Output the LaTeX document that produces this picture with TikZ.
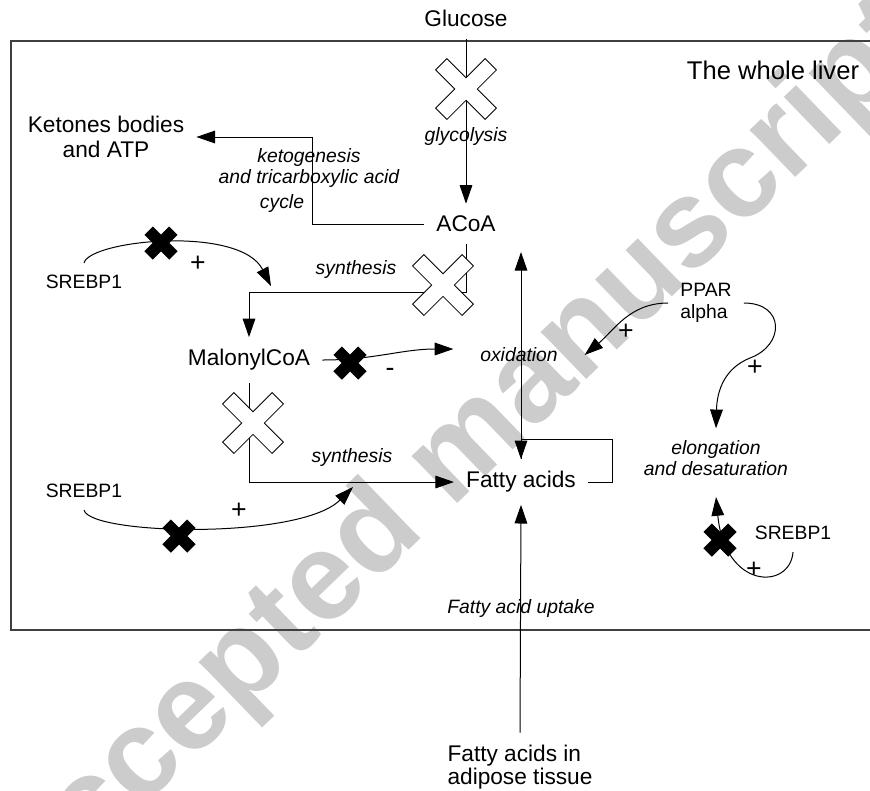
\documentclass[tikz,border=0pt]{standalone}
\usepackage{fontspec}
\setmainfont{Liberation Sans}
\usepackage{xcolor}
\usetikzlibrary{arrows.meta}

\definecolor{markgray}{RGB}{204,204,204}

\begin{document}
\begin{tikzpicture}[x=0.75pt,y=-0.75pt]
\tikzset{every node/.style={inner sep=9pt}}
\tikzset{species/.style={font=\fontsize{17}{19.2}\selectfont}}
\tikzset{factor/.style={font=\fontsize{14.5}{16.5}\selectfont,align=left}}
\tikzset{process/.style={font=\fontsize{14.5}{15.6}\selectfont\itshape,inner sep=2pt,align=center}}
\tikzset{sign/.style={font=\fontsize{20}{24}\selectfont,inner sep=0pt}}
\tikzset{arr/.style={-{Triangle[length=14pt,width=9.5pt]},line width=0.75pt}}
\tikzset{frame/.style={draw=black!75,line width=1pt}}
\tikzset{whitecross/.pic={\draw[fill=white,line width=0.6pt,rotate=45] (8,8) -- (35,8) -- (35,-8) -- (8,-8) -- (8,-35) -- (-8,-35) -- (-8,-8) -- (-35,-8) -- (-35,8) -- (-8,8) -- (-8,35) -- (8,35) -- cycle;}}
\tikzset{blackcross/.pic={\fill[rotate=45] (6,6) -- (17.5,6) -- (17.5,-6) -- (6,-6) -- (6,-17.5) -- (-6,-17.5) -- (-6,-6) -- (-17.5,-6) -- (-17.5,6) -- (-6,6) -- (-6,17.5) -- (6,17.5) -- cycle;}}

\useasboundingbox (0,0) rectangle (870,790);

\node[rotate=44,text=markgray,font=\fontsize{93}{100}\selectfont\bfseries,inner sep=0pt] (mark) at (457,460) {Accepted manuscript};

\draw[frame] (870,41) -- (11,41) -- (11,630) -- (870,630);

\node[species] (glucose) at (466,18) {Glucose};
\node[species] (acoa) at (466,224) {ACoA};
\node[species,align=center] (ketones) at (106,137) {Ketones bodies\\and ATP};
\node[species] (malonyl) at (249,360) {MalonylCoA};
\node[species] (fatty) at (521,482) {Fatty acids};
\node[species,align=left,font=\fontsize{17}{17.5}\selectfont] (adipose) at (520,767) {Fatty acids in\\adipose tissue};
\node[font=\fontsize{19.2}{22}\selectfont] (liver) at (773,70) {The whole liver};
\node[factor] (srebpa) at (84,282) {SREBP1};
\node[factor] (srebpb) at (84,491) {SREBP1};
\node[factor] (srebpc) at (793,533) {SREBP1};
\node[factor] (ppar) at (706,303) {PPAR\\alpha};

\node[process] (glyco) at (466,136) {glycolysis};
\node[process] (keto) at (309,168) {ketogenesis\\and tricarboxylic acid};
\node[process] (cycle) at (282,203) {cycle};
\node[process] (synthup) at (356,269) {synthesis};
\node[process] (synthlow) at (352,457) {synthesis};
\node[process,inner xsep=20pt] (oxid) at (519,355) {oxidation};
\node[process,inner sep=9pt] (elong) at (716,458) {elongation\\and desaturation};
\node[process] (uptake) at (521,608) {Fatty acid uptake};

\node[sign] (plusa) at (198,264) {+};
\node[sign] (minus) at (390,372) {-};
\node[sign] (plusb) at (239,511) {+};
\node[sign] (plusc) at (626,332) {+};
\node[sign] (plusd) at (755,368) {+};
\node[sign] (pluse) at (754,570) {+};

\coordinate (tipa) at (271,286);
\coordinate (tipb) at (353,487);
\coordinate (oxtop) at (521,252);
\coordinate (loop) at (612,439);

\draw[arr] (glucose) -- (acoa);
\draw[arr] (acoa.west) -- ++(-112,0) |- (ketones.east);
\draw[arr] (acoa.south) -- ++(0,48) -| (malonyl.north);
\draw[arr] (malonyl.south) |- (fatty.west);
\draw[arr] (malonyl.east) to[out=0,in=180] ([yshift=4.5pt]oxid.west);
\draw[arr] (ppar.west) to[out=180,in=40] (oxid.east);
\draw[arr] (ppar.east) .. controls (785,303) and (785,345) .. (750,358) .. controls (725,368) and (717,390) .. (elong.north);
\draw[arr] (fatty.north) -- (oxtop);
\draw[arr] (fatty.east) -| (loop) -| (fatty.north);
\draw[arr] (adipose.north) -- (fatty.south);
\draw[arr] (srebpa.north) .. controls (90,240) and (240,225) .. (tipa);
\draw[arr] (srebpb.south) .. controls (90,535) and (300,540) .. (tipb);
\draw[arr] (srebpc.south) .. controls (790,590) and (725,590) .. ([yshift=-7pt]elong.south);

\pic at (466,89) {whitecross};
\pic at (443,285) {whitecross};
\pic at (253,423) {whitecross};
\pic at (161,243) {blackcross};
\pic at (350,363) {blackcross};
\pic at (179,536) {blackcross};
\pic at (720,540) {blackcross};

\end{tikzpicture}
\end{document}
